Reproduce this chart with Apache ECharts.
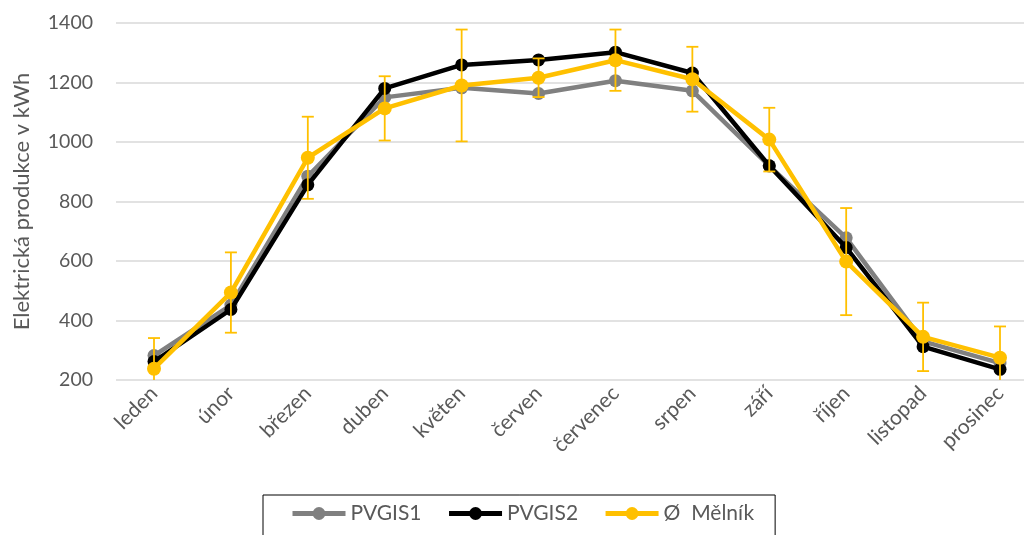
<!DOCTYPE html>
<html>
<head>
<meta charset="utf-8">
<script src="https://cdn.jsdelivr.net/npm/echarts@6/dist/echarts.min.js"></script>
<style>html,body{margin:0;padding:0;background:#fff;}#c{width:1024px;height:535px;}</style>
</head>
<body>
<div id="c"></div>
<script>
const months = ['leden','únor','březen','duben','květen','červen','červenec','srpen','září','říjen','listopad','prosinec'];
const pvgis1 = [282, 452, 885, 1150, 1182, 1163, 1206, 1172, 920, 678, 330, 257];
const pvgis2 = [262, 437, 856, 1180, 1259, 1276, 1302, 1232, 920, 645, 312, 236];
const melnik = [238, 494, 947, 1113, 1190, 1216, 1275, 1211, 1008, 598, 345, 275];
const melnikErr = [103, 135, 138, 108, 188, 65, 103, 109, 107, 180, 115, 105];
const yTicks = [200, 400, 600, 800, 1000, 1200, 1400];

const FONT = 'Lato';
const TXT = '#595959';
const Y_MIN = yTicks[0], Y_MAX = yTicks[yTicks.length - 1];
const chart = echarts.init(document.getElementById('c'));
const errData = melnik.map((v, i) => [i, v - melnikErr[i], v + melnikErr[i]]);

chart.setOption({
  animation: false,
  textStyle: { fontFamily: FONT },
  grid: [
    { left: 154, right: 24, top: 23, height: 357 },
    { left: 116, right: 0, top: 23, height: 357 }
  ],
  legend: {
    left: 263, top: 495,
    borderColor: '#000', borderWidth: 1,
    padding: [8, 21, 20, 27],
    itemWidth: 53, itemHeight: 16, itemGap: 25,
    lineStyle: { width: 5 },
    textStyle: { fontFamily: FONT, fontSize: 21, color: TXT },
    data: ['PVGIS1', 'PVGIS2', 'Ø  Mělník']
  },
  xAxis: [
    {
      type: 'category', gridIndex: 0,
      data: months,
      boundaryGap: false,
      axisLine: { show: false },
      axisTick: { show: false },
      splitLine: { show: false },
      axisLabel: { rotate: 45, margin: 10, fontSize: 21, color: TXT, fontFamily: FONT, interval: 0 }
    },
    {
      type: 'value', gridIndex: 1, min: 0, max: 1, show: false
    }
  ],
  yAxis: [
    {
      type: 'value', gridIndex: 0,
      min: Y_MIN, max: Y_MAX, interval: 200,
      show: false, splitLine: { show: false }
    },
    {
      type: 'value', gridIndex: 1,
      min: Y_MIN, max: Y_MAX, interval: 200,
      name: 'Elektrická produkce v kWh',
      nameLocation: 'middle', nameGap: 83,
      nameTextStyle: { fontSize: 22, color: TXT, fontFamily: FONT },
      axisLine: { show: false }, axisTick: { show: false },
      axisLabel: { fontSize: 19.5, color: TXT, fontFamily: FONT, margin: 23, formatter: v => String(v) },
      splitLine: { lineStyle: { color: '#d9d9d9', width: 1.5 } }
    }
  ],
  series: [
    {
      name: 'PVGIS1', type: 'line', data: pvgis1, z: 2,
      symbol: 'circle', symbolSize: 13,
      lineStyle: { color: '#808080', width: 4.5 },
      itemStyle: { color: '#808080' }
    },
    {
      name: 'PVGIS2', type: 'line', data: pvgis2, z: 3,
      symbol: 'circle', symbolSize: 13,
      lineStyle: { color: '#000000', width: 4.5 },
      itemStyle: { color: '#000000' }
    },
    {
      name: 'Ø  Mělník', type: 'line', data: melnik, z: 4,
      symbol: 'circle', symbolSize: 14,
      lineStyle: { color: '#FFC000', width: 4.5 },
      itemStyle: { color: '#FFC000' }
    },
    {
      type: 'custom', z: 3.5, clip: false,
      data: errData,
      renderItem: function (params, api) {
        const x = api.value(0);
        const loVal = api.value(1), hiVal = api.value(2);
        const loClamped = loVal < Y_MIN;
        const lo = api.coord([x, loClamped ? Y_MIN : loVal]);
        const hi = api.coord([x, hiVal]);
        const hw = 6;
        const st = { stroke: '#FFC000', lineWidth: 1.8 };
        const children = [
          { type: 'line', shape: { x1: lo[0], y1: lo[1], x2: hi[0], y2: hi[1] }, style: st },
          { type: 'line', shape: { x1: hi[0] - hw, y1: hi[1], x2: hi[0] + hw, y2: hi[1] }, style: st }
        ];
        if (!loClamped) {
          children.push({ type: 'line', shape: { x1: lo[0] - hw, y1: lo[1], x2: lo[0] + hw, y2: lo[1] }, style: st });
        }
        return { type: 'group', children: children };
      }
    }
  ]
});
</script>
</body>
</html>
